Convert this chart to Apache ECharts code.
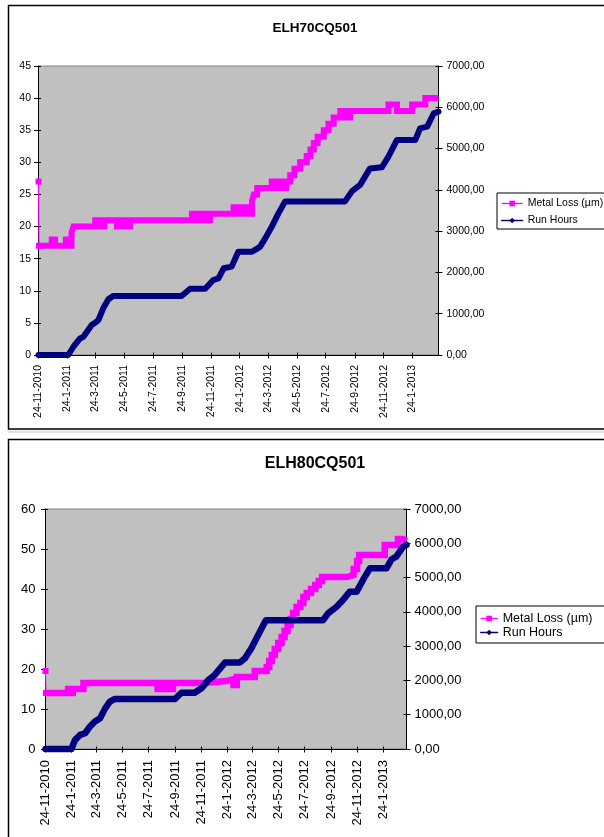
<!DOCTYPE html>
<html>
<head>
<meta charset="utf-8">
<script src="https://cdn.jsdelivr.net/npm/echarts@6/dist/echarts.min.js"></script>
<style>
  html, body { margin: 0; padding: 0; background: #fff; }
  #chart { width: 604px; height: 837px; }
</style>
</head>
<body>
<div id="chart"></div>
<script>
// ---- shared date axis ----
const xStart = '2010-11-24';
const xEnd = '2013-03-20';
const xTickDates = ['2010-11-24', '2011-01-24', '2011-03-24', '2011-05-24', '2011-07-24', '2011-09-24',
  '2011-11-24', '2012-01-24', '2012-03-24', '2012-05-24', '2012-07-24', '2012-09-24', '2012-11-24', '2013-01-24'];

const titles = ['ELH70CQ501', 'ELH80CQ501'];
const lossName = 'Metal Loss (µm)';
const hoursName = 'Run Hours';

// ---- ELH70CQ501 ----
const lossDates70 = ['2010-11-24', '2010-11-25', '2010-12-22', '2010-12-29', '2011-01-21', '2011-01-27', '2011-02-02',
  '2011-02-06', '2011-03-24', '2011-04-01', '2011-04-12', '2011-05-09', '2011-05-15', '2011-05-26', '2011-06-06',
  '2011-10-15', '2011-10-26', '2011-11-05', '2011-11-14', '2011-11-22', '2012-01-11', '2012-01-21', '2012-01-31',
  '2012-02-10', '2012-02-19', '2012-02-23', '2012-03-01', '2012-04-01', '2012-04-11', '2012-04-19', '2012-04-25',
  '2012-05-01', '2012-05-10', '2012-05-19', '2012-05-31', '2012-06-14', '2012-06-22', '2012-06-29', '2012-07-07',
  '2012-07-20', '2012-07-30', '2012-08-10', '2012-08-24', '2012-09-04', '2012-09-14', '2012-12-04', '2012-12-22',
  '2013-01-23', '2013-02-20', '2013-03-20'];
const lossValues70 = [27, 17, 18, 17, 18, 17, 19,
  20, 21, 20, 21, 20, 21, 20, 21,
  22, 21, 22, 21, 22, 23, 22, 23,
  22, 24, 25, 26, 27, 26, 27, 26,
  27, 28, 29, 30, 31, 32, 33, 34,
  35, 36, 37, 38, 37, 38, 39, 38,
  39, 40, 40];

const hoursDates70 = ['2010-11-24', '2011-01-26', '2011-02-06', '2011-02-20', '2011-02-27', '2011-03-17', '2011-03-24',
  '2011-03-31', '2011-04-10', '2011-04-21', '2011-05-01', '2011-09-23', '2011-10-11', '2011-11-12', '2011-11-29',
  '2011-12-10', '2011-12-21', '2012-01-07', '2012-01-21', '2012-02-19', '2012-03-07', '2012-03-18', '2012-04-01',
  '2012-04-15', '2012-04-29', '2012-09-03', '2012-09-18', '2012-10-05', '2012-10-26', '2012-11-20', '2012-12-04',
  '2012-12-22', '2013-01-30', '2013-02-09', '2013-02-24', '2013-03-10', '2013-03-20'];
const hoursValues70 = [0, 0, 200, 400, 440, 730, 780,
  850, 1130, 1350, 1430, 1430, 1605, 1605, 1815,
  1855, 2100, 2140, 2500, 2500, 2620, 2825, 3110,
  3430, 3715, 3720, 3970, 4120, 4520, 4545, 4805,
  5210, 5210, 5490, 5530, 5855, 5895];

// ---- ELH80CQ501 ----
const lossDates80 = ['2010-11-24', '2010-11-25', '2011-01-16', '2011-01-21', '2011-01-27', '2011-02-21', '2011-08-14',
  '2011-08-28', '2011-09-08', '2011-09-19', '2011-11-29', '2012-01-23', '2012-02-08', '2012-02-16', '2012-03-29',
  '2012-04-26', '2012-05-02', '2012-05-08', '2012-05-15', '2012-05-23', '2012-05-31', '2012-06-07', '2012-06-14',
  '2012-06-21', '2012-06-27', '2012-07-05', '2012-07-14', '2012-07-21', '2012-07-29', '2012-08-08', '2012-08-18',
  '2012-08-26', '2012-09-03', '2012-10-31', '2012-11-16', '2012-11-24', '2012-11-29', '2013-01-28', '2013-02-28',
  '2013-03-12', '2013-03-20'];
const lossValues80 = [19.5, 14, 15, 14, 15, 16.5, 15,
  16.5, 15, 16.5, 17, 17.5, 16, 18, 19.5,
  20.5, 22, 23.5, 25, 26.5, 28, 29.5, 31,
  32.5, 34, 35.5, 36.5, 38, 39, 40, 41,
  42, 43, 43.5, 45, 47, 48.5, 51, 52.5,
  52, 52];

const hoursDates80 = ['2010-11-24', '2011-01-24', '2011-02-01', '2011-02-13', '2011-02-25', '2011-03-08', '2011-03-20',
  '2011-04-01', '2011-04-13', '2011-04-24', '2011-05-06', '2011-09-24', '2011-10-09', '2011-11-09', '2011-11-25',
  '2011-12-11', '2011-12-26', '2012-01-19', '2012-02-23', '2012-03-06', '2012-03-21', '2012-04-06', '2012-04-24',
  '2012-09-05', '2012-09-17', '2012-10-07', '2012-10-22', '2012-11-07', '2012-11-23', '2012-12-08', '2012-12-24',
  '2013-02-01', '2013-02-13', '2013-02-24', '2013-03-12', '2013-03-20'];
const hoursValues80 = [0, 0, 260, 410, 460, 650, 800,
  895, 1185, 1380, 1460, 1460, 1640, 1640, 1770,
  2010, 2160, 2520, 2520, 2645, 2940, 3325, 3755,
  3755, 3955, 4150, 4345, 4590, 4590, 4930, 5270,
  5270, 5535, 5610, 5900, 5950];

// ---- helpers ----
function toTime(s) {
  const [y, m, d] = s.split('-').map(Number);
  return new Date(y, m - 1, d).getTime();
}
function pairs(dates, values) {
  return dates.map((d, i) => [toTime(d), values[i]]);
}
const xTicks = xTickDates.map(toTime);
const fmtDate = v => { const d = new Date(v); return d.getDate() + '-' + (d.getMonth() + 1) + '-' + d.getFullYear(); };
const fmtHours = v => v.toFixed(2).replace('.', ',');
const FONT = 'Liberation Sans, Arial, sans-serif';
const BLACK = '#000';
const MAGENTA = '#ff00ff';
const NAVY = '#000080';

// per-panel layout
const panels = [
  { grid: { left: 38.5, top: 66, width: 400, height: 289 }, lossMax: 45, lossStep: 5,
    font: 10.5, titleSize: 13.5, titleTop: 16, mLeft: 7.5, mRight: 8, mX: 10, lw: 6,
    legend: { left: 497, top: 193, font: 10.5, itemWidth: 21, itemGap: 6, pad: [5, 8, 3, 4] },
    loss: pairs(lossDates70, lossValues70), hours: pairs(hoursDates70, hoursValues70) },
  { grid: { left: 45.5, top: 509, width: 361, height: 240 }, lossMax: 60, lossStep: 10,
    font: 13, titleSize: 16, titleTop: 451, mLeft: 10, mRight: 8, mX: 11, lw: 6.5,
    legend: { left: 476, top: 606, font: 12.5, itemWidth: 17, itemGap: 1, pad: [6, 14, 4, 4] },
    loss: pairs(lossDates80, lossValues80), hours: pairs(hoursDates80, hoursValues80) }
];

const option = {
  animation: false,
  backgroundColor: '#fff',
  textStyle: { fontFamily: FONT },
  title: [], grid: [], xAxis: [], yAxis: [], series: [], legend: [],
  graphic: [
    { type: 'rect', shape: { x: 8.5, y: 5.5, width: 700, height: 423.5 }, style: { fill: 'none', stroke: BLACK, lineWidth: 1.5 }, z: 0 },
    { type: 'rect', shape: { x: 8, y: 430.5, width: 700, height: 2.5 }, style: { fill: '#e2e2e2' }, z: 0 },
    { type: 'rect', shape: { x: 8.5, y: 439.5, width: 700, height: 500 }, style: { fill: 'none', stroke: BLACK, lineWidth: 1.5 }, z: 0 }
  ]
};

panels.forEach((p, i) => {
  option.title.push({
    text: titles[i], left: 310, top: p.titleTop, textAlign: 'center',
    textStyle: { fontSize: p.titleSize, fontWeight: 'bold', color: BLACK, fontFamily: FONT }
  });
  option.grid.push(Object.assign({ show: true, backgroundColor: '#c0c0c0', borderColor: '#808080', borderWidth: 1 }, p.grid));

  // dates are plotted on a linear axis of millisecond timestamps
  const xBase = { type: 'value', gridIndex: i, min: toTime(xStart), max: toTime(xEnd), position: 'bottom', splitLine: { show: false } };
  option.xAxis.push(Object.assign({}, xBase, {
    axisLine: { show: true, lineStyle: { color: BLACK, width: 1 } },
    axisTick: { show: true, customValues: xTicks, length: 3.5, lineStyle: { color: BLACK } },
    axisLabel: { show: true, customValues: xTicks, rotate: 90, margin: p.mX, formatter: fmtDate,
      fontSize: p.font, color: BLACK, fontFamily: FONT }
  }));
  option.xAxis.push(Object.assign({}, xBase, {
    axisLine: { show: false },
    axisTick: { show: true, inside: true, customValues: xTicks, length: 2.5, lineStyle: { color: BLACK } },
    axisLabel: { show: false }
  }));

  const lossBase = { type: 'value', gridIndex: i, min: 0, max: p.lossMax, interval: p.lossStep, position: 'left', splitLine: { show: false } };
  const hoursBase = { type: 'value', gridIndex: i, min: 0, max: 7000, interval: 1000, position: 'right', splitLine: { show: false } };
  option.yAxis.push(Object.assign({}, lossBase, {
    axisLine: { show: true, lineStyle: { color: BLACK } },
    axisTick: { show: true, length: 4.5, lineStyle: { color: BLACK } },
    axisLabel: { margin: p.mLeft, fontSize: p.font, color: BLACK, fontFamily: FONT }
  }));
  option.yAxis.push(Object.assign({}, hoursBase, {
    axisLine: { show: true, lineStyle: { color: BLACK } },
    axisTick: { show: true, length: 4, lineStyle: { color: BLACK } },
    axisLabel: { margin: p.mRight, fontSize: p.font, color: BLACK, fontFamily: FONT, formatter: fmtHours }
  }));
  option.yAxis.push(Object.assign({}, lossBase, {
    axisLine: { show: false }, axisLabel: { show: false },
    axisTick: { show: true, inside: true, length: 2.5, lineStyle: { color: BLACK } }
  }));
  option.yAxis.push(Object.assign({}, hoursBase, {
    axisLine: { show: false }, axisLabel: { show: false },
    axisTick: { show: true, inside: true, length: 3, lineStyle: { color: BLACK } }
  }));

  // first reading: a single square marker joined to the rest by a thin line
  option.series.push({
    name: lossName, type: 'line', xAxisIndex: 2 * i, yAxisIndex: 4 * i, clip: false,
    data: p.loss.slice(0, 2), symbol: 'rect', symbolSize: 6, showSymbol: true,
    lineStyle: { color: MAGENTA, width: 1 }, itemStyle: { color: MAGENTA }, z: 3
  });
  // the dense readings that follow form a thick stepped band
  option.series.push({
    name: lossName, type: 'line', xAxisIndex: 2 * i, yAxisIndex: 4 * i, step: 'end', clip: false,
    data: p.loss.slice(1), symbol: 'rect', symbolSize: 6, showSymbol: false,
    lineStyle: { color: MAGENTA, width: p.lw, join: 'miter' }, itemStyle: { color: MAGENTA }, z: 3
  });
  option.series.push({
    name: hoursName, type: 'line', xAxisIndex: 2 * i, yAxisIndex: 4 * i + 1, clip: false,
    data: p.hours, symbol: 'diamond', symbolSize: 7, showSymbol: false,
    lineStyle: { color: NAVY, width: p.lw, join: 'round', cap: 'round' }, itemStyle: { color: NAVY }, z: 4
  });

  option.legend.push({
    data: [lossName, hoursName], orient: 'vertical', left: p.legend.left, top: p.legend.top,
    selectedMode: false, backgroundColor: '#fff', borderColor: BLACK, borderWidth: 1,
    padding: p.legend.pad, itemWidth: p.legend.itemWidth, itemHeight: 7, itemGap: p.legend.itemGap,
    lineStyle: { width: 1.3 },
    textStyle: { fontSize: p.legend.font, color: BLACK, fontFamily: FONT }
  });
});

const chart = echarts.init(document.getElementById('chart'), null, { renderer: 'canvas' });
chart.setOption(option);
</script>
</body>
</html>
